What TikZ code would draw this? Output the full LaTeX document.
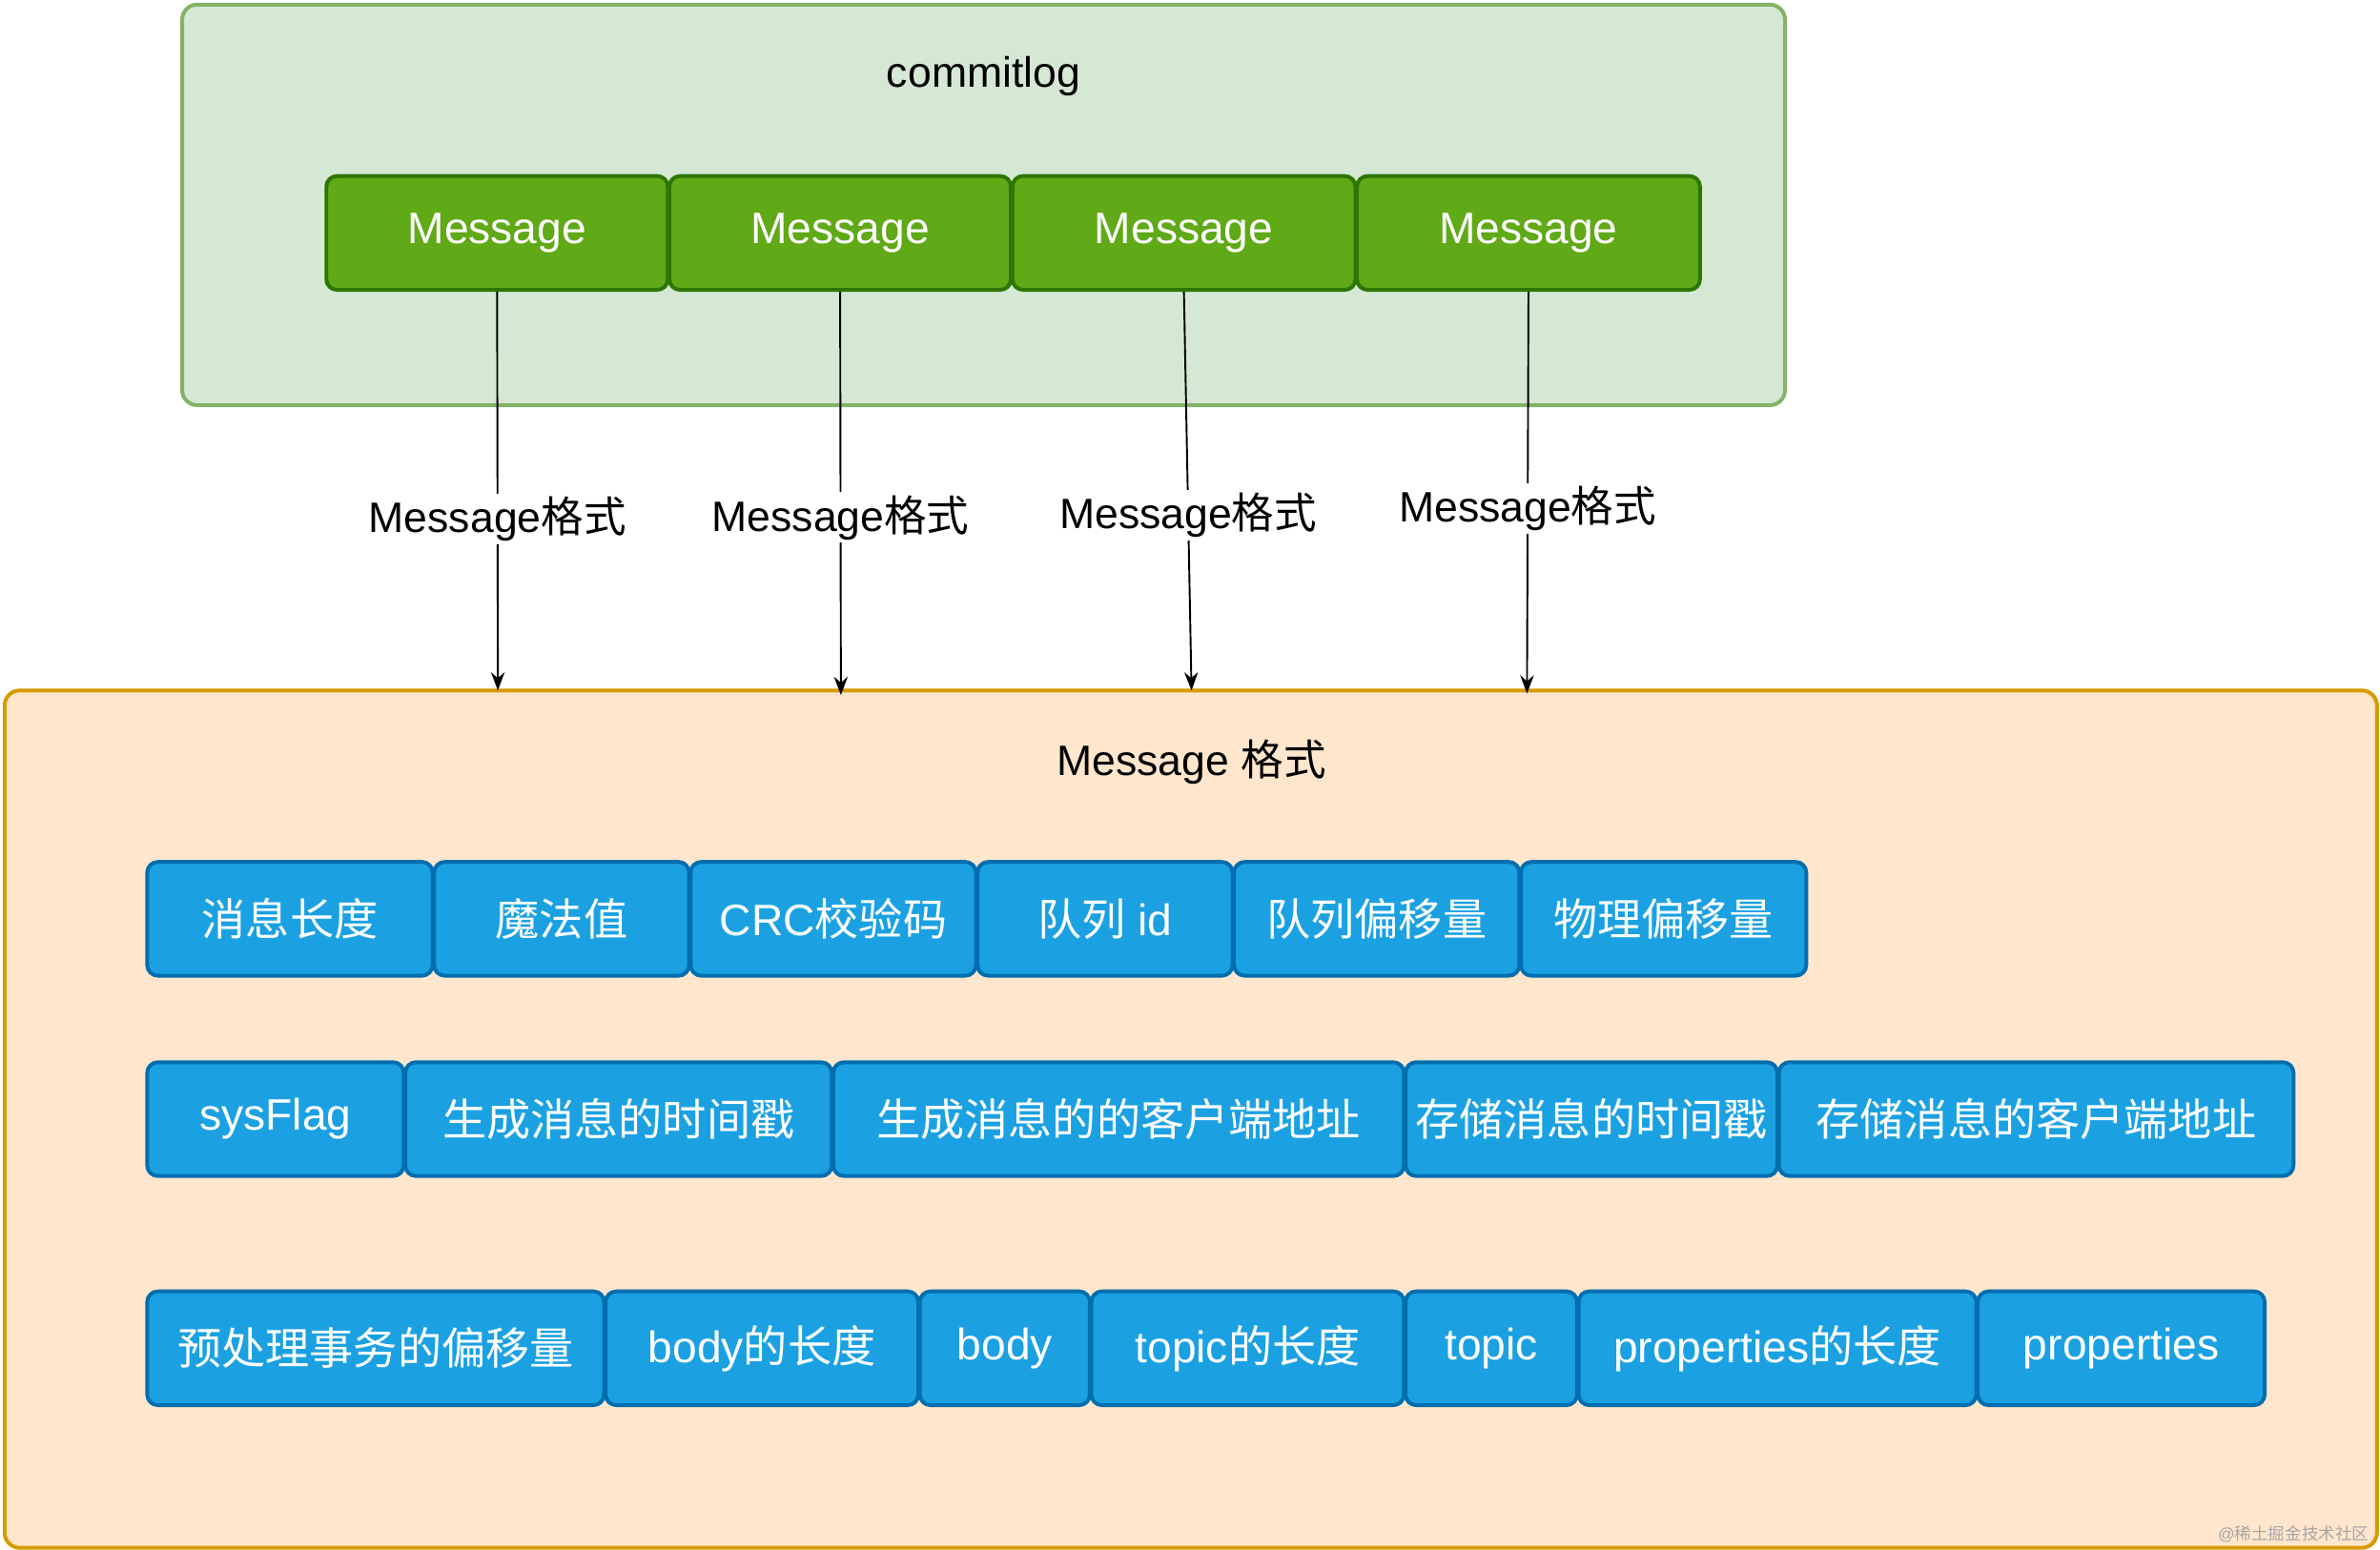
\documentclass[tikz,border=0pt]{standalone}
\usepackage{fontspec}
\usetikzlibrary{arrows.meta}
\setmainfont{Liberation Sans}
\newfontfamily\cjk{Noto Sans CJK SC}
\newcommand{\zh}[1]{{\cjk #1}}
\definecolor{gfill}{HTML}{D5E8D4}\definecolor{gline}{HTML}{82B366}
\definecolor{mfill}{HTML}{60A917}\definecolor{mline}{HTML}{2D7600}
\definecolor{ofill}{HTML}{FFE6CC}\definecolor{oline}{HTML}{D79B00}
\definecolor{bfill}{HTML}{1BA1E2}\definecolor{bline}{HTML}{006EAF}
\begin{document}
\begin{tikzpicture}[x=1pt,y=-1pt,
  cont/.style={draw, line width=2.5pt, rounded corners=10pt},
  msg/.style={draw=mline, fill=mfill, line width=2.5pt, rounded corners=7pt, text=white, font=\fontsize{29}{32}\selectfont},
  fld/.style={draw=bline, fill=bfill, line width=2.5pt, rounded corners=7pt, text=white, font=\fontsize{29}{32}\selectfont},
  lbl/.style={fill=white, inner sep=2pt, font=\fontsize{28}{32}\selectfont},
  arr/.style={-{Stealth[length=12pt,width=9pt]}, line width=1.2pt}]
\useasboundingbox (0,0) rectangle (1568,1021);
\newcommand{\bx}[6]{\node[#1, minimum width=#4-#3, minimum height=75pt, inner sep=0pt] (#2) at ({(#3+#4)/2},#5) {#6};}
\draw[cont, draw=gline, fill=gfill] (120,3) rectangle (1176,267);
\node (t1) at (648,50) {\fontsize{28}{32}\selectfont commitlog};
\draw[cont, draw=oline, fill=ofill] (3,455) rectangle (1566,1020);
\node (t2) at (785,502) {\fontsize{28}{32}\selectfont Message \zh{格式}};
\bx{msg}{m1}{215}{440}{153.5}{Message}
\bx{msg}{m2}{441}{666}{153.5}{Message}
\bx{msg}{m3}{667}{893}{153.5}{Message}
\bx{msg}{m4}{894}{1120}{153.5}{Message}
\coordinate (e1) at (328,455);\coordinate (e2) at (554,458);
\coordinate (e3) at (785,455);\coordinate (e4) at (1006,457);
\draw[arr] (m1.south) -- node[lbl,pos=0.57]{Message\zh{格式}} (e1);
\draw[arr] (m2.south) -- node[lbl,pos=0.56]{Message\zh{格式}} (e2);
\draw[arr] (m3.south) -- node[lbl,pos=0.56]{Message\zh{格式}} (e3);
\draw[arr] (m4.south) -- node[lbl,pos=0.54]{Message\zh{格式}} (e4);
\bx{fld}{a1}{97}{285}{605.5}{\zh{消息长度}}
\bx{fld}{a2}{286}{454}{605.5}{\zh{魔法值}}
\bx{fld}{a3}{455}{643}{605.5}{CRC\zh{校验码}}
\bx{fld}{a4}{644}{812}{605.5}{\zh{队列} id}
\bx{fld}{a5}{813}{1001}{605.5}{\zh{队列偏移量}}
\bx{fld}{a6}{1002}{1190}{605.5}{\zh{物理偏移量}}
\bx{fld}{b1}{97}{266}{737.5}{sysFlag}
\bx{fld}{b2}{267}{548}{737.5}{\zh{生成消息的时间戳}}
\bx{fld}{b3}{549}{925}{737.5}{\zh{生成消息的的客户端地址}}
\bx{fld}{b4}{926}{1171}{737.5}{\zh{存储消息的时间戳}}
\bx{fld}{b5}{1172}{1511}{737.5}{\zh{存储消息的客户端地址}}
\bx{fld}{c1}{97}{398}{888.5}{\zh{预处理事务的偏移量}}
\bx{fld}{c2}{399}{605}{888.5}{body\zh{的长度}}
\bx{fld}{c3}{606}{718}{888.5}{body}
\bx{fld}{c4}{719}{925}{888.5}{topic\zh{的长度}}
\bx{fld}{c5}{926}{1039}{888.5}{topic}
\bx{fld}{c6}{1040}{1302}{888.5}{properties\zh{的长度}}
\bx{fld}{c7}{1303}{1492}{888.5}{properties}
\node[text=gray!70, anchor=east, font=\fontsize{11}{12}\selectfont] (wm) at (1564,1011) {@\zh{稀土掘金技术社区}};
\end{tikzpicture}
\end{document}
